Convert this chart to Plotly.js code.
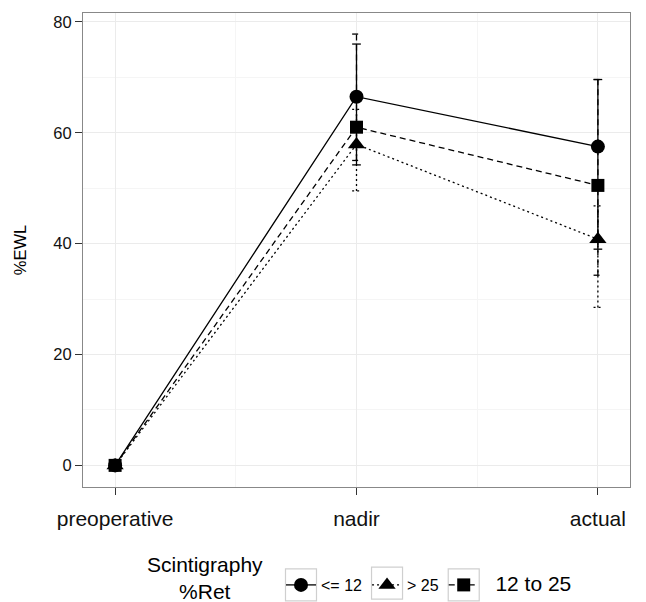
<!DOCTYPE html>
<html>
<head>
<meta charset="utf-8">
<script src="https://cdn.plot.ly/plotly-3.0.1.min.js"></script>
<style>html,body{margin:0;padding:0;background:#fff;}#chart{width:646px;height:602px;}</style>
</head>
<body>
<div id="chart"></div>
<script>
// ---- data ----
const categories = ["preoperative", "nadir", "actual"];
const groups = ["<= 12", "> 25", "12 to 25"];

const meanLe12 = [0, 66.5, 57.5];
const meanGt25 = [0, 57.9, 40.8];
const mean12to25 = [0, 61.0, 50.5];

const lowLe12 = [0, 54.2, 39.0];
const highLe12 = [0, 76.0, 69.6];
const lowGt25 = [0, 49.5, 28.5];
const highGt25 = [0, 64.2, 46.8];
const low12to25 = [0, 55.0, 34.3];
const high12to25 = [0, 77.8, 69.6];

const legendTitle = "Scintigraphy<br>%Ret";
const yTitle = "%EWL";

// ---- styling ----
const symbols = ["circle", "triangle-up", "square"];
const dashes = ["solid", "2px,3px", "6px,4px"];
const sizes = [14, 15, 13];
const means = [meanLe12, meanGt25, mean12to25];
const lows = [lowLe12, lowGt25, low12to25];
const highs = [highLe12, highGt25, high12to25];
const xpos = categories.map((c, i) => i);
const capHalf = 0.018;

const M = {l: 83, r: 16, t: 13, b: 115};
const W = 646, H = 602;
const plotW = W - M.l - M.r, plotH = H - M.t - M.b;

const traces = [];
groups.forEach((g, s) => {
  const ex = [], ey = [];
  xpos.forEach((x, i) => {
    const lo = lows[s][i], hi = highs[s][i];
    if (lo === hi) return;
    ex.push(x, x, null, x - capHalf, x + capHalf, null, x - capHalf, x + capHalf, null);
    ey.push(lo, hi, null, lo, lo, null, hi, hi, null);
  });
  traces.push({
    x: ex, y: ey, type: "scatter", mode: "lines",
    line: {color: "#000", width: 1.3, dash: dashes[s]},
    showlegend: false, hoverinfo: "skip"
  });
});
groups.forEach((g, s) => {
  traces.push({
    x: xpos, y: means[s], type: "scatter", mode: "lines+markers",
    name: s === 2 ? '<span style="font-size:21px">  ' + g + '</span>' : g,
    line: {color: "#000", width: 1.3, dash: dashes[s]},
    marker: {symbol: symbols[s], size: sizes[s], color: "#000"}
  });
});

const layout = {
  width: W, height: H,
  margin: M,
  paper_bgcolor: "#fff", plot_bgcolor: "#fff",
  font: {family: "Liberation Sans, Arial, sans-serif", color: "#000"},
  showlegend: true,
  legend: {
    orientation: "h", xref: "container", yref: "container",
    x: 281 / W, y: 1 - 585 / H, xanchor: "left", yanchor: "middle",
    font: {size: 16, color: "#000"}, bgcolor: "rgba(0,0,0,0)"
  },
  xaxis: {
    type: "linear", range: [-0.133, 2.133],
    tickmode: "array", tickvals: xpos, ticktext: categories,
    tickfont: {size: 21, color: "#111"},
    ticks: "outside", ticklen: 7, tickcolor: "#333", tickwidth: 1,
    ticklabelstandoff: 6,
    showgrid: true, gridcolor: "#ebebeb", gridwidth: 1,
    minor: {tickmode: "array", tickvals: [0.5, 1.5], showgrid: true, gridcolor: "#f5f5f5", ticks: ""},
    showline: true, mirror: true, linecolor: "#888", linewidth: 1,
    zeroline: false, automargin: false
  },
  yaxis: {
    range: [-3.9, 81.6], tickmode: "linear", tick0: 0, dtick: 20,
    tickfont: {size: 16.5, color: "#111"},
    ticks: "outside", ticklen: 7, tickcolor: "#333", tickwidth: 1,
    showgrid: true, gridcolor: "#ebebeb", gridwidth: 1,
    minor: {dtick: 10, showgrid: true, gridcolor: "#f5f5f5", ticks: ""},
    showline: true, mirror: true, linecolor: "#888", linewidth: 1,
    zeroline: false, automargin: false,
    title: {text: yTitle, font: {size: 16.5, color: "#000"}, standoff: 22}
  },
  annotations: [{
    xref: "paper", yref: "paper", x: (205 - M.l) / plotW, y: (H - M.b - 578) / plotH,
    xanchor: "center", yanchor: "middle",
    text: legendTitle, showarrow: false, align: "center",
    font: {size: 21, color: "#000"}
  }]
};

Plotly.newPlot("chart", traces, layout, {displayModeBar: false, staticPlot: true}).then(gd => {
  // gray key boxes around each legend symbol (ggplot-style legend keys)
  const host = gd.getBoundingClientRect();
  const shapes = [];
  gd.querySelectorAll(".legend .traces").forEach(tr => {
    const pts = tr.querySelector(".legendpoints") || tr.querySelector(".legendsymbols");
    if (!pts) return;
    const r = pts.getBoundingClientRect();
    const cx = r.left + r.width / 2 - host.left;
    const cy = r.top + r.height / 2 - host.top;
    const x0 = cx - 15.5, x1 = cx + 15.5, y0 = cy - 16, y1 = cy + 16;
    shapes.push({
      type: "rect", xref: "paper", yref: "paper", layer: "below",
      x0: (x0 - M.l) / plotW, x1: (x1 - M.l) / plotW,
      y0: (H - M.b - y1) / plotH, y1: (H - M.b - y0) / plotH,
      line: {color: "#cfcfcf", width: 1.2}, fillcolor: "#fff"
    });
  });
  return Plotly.relayout(gd, {shapes: shapes});
});
</script>
</body>
</html>
